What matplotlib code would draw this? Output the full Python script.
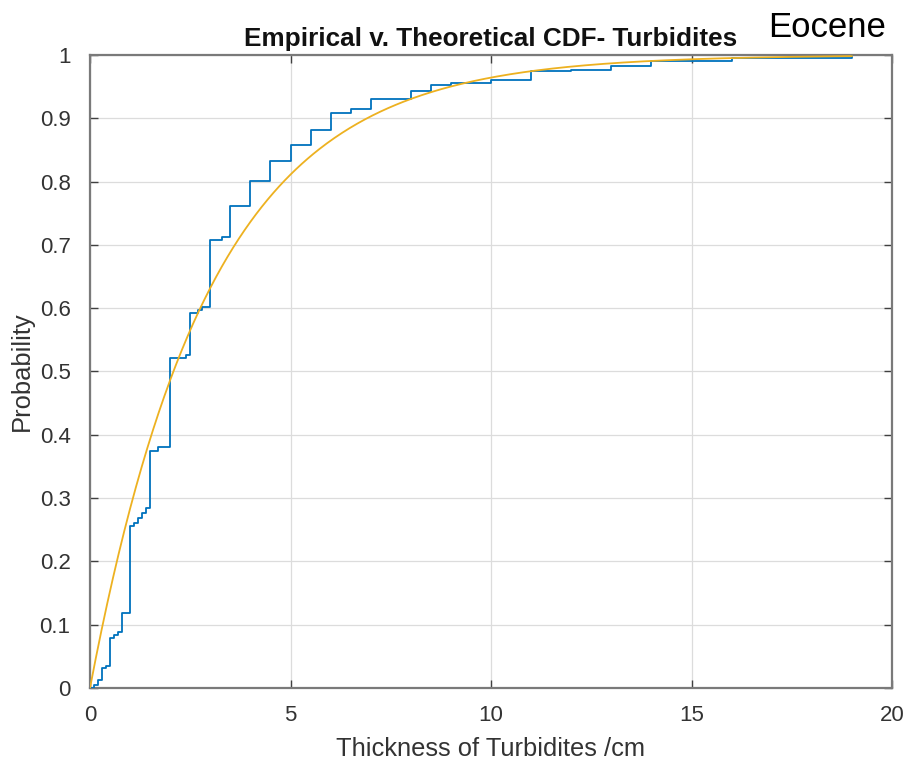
import numpy as np
import matplotlib
matplotlib.use("Agg")
import matplotlib.pyplot as plt

# Empirical CDF step locations (thickness, cm) and probability after each step
step_x = [0.0, 0.1, 0.2, 0.3, 0.4, 0.5, 0.6, 0.7, 0.8, 1.0, 1.1, 1.2, 1.3, 1.4,
          1.5, 1.7, 2.0, 2.4, 2.5, 2.7, 2.8, 3.0, 3.3, 3.5, 4.0, 4.5, 5.0, 5.5,
          6.0, 6.5, 7.0, 8.0, 8.5, 9.0, 10.0, 11.0, 12.0, 13.0, 14.0, 16.0, 19.0]
step_y = [0.0, 0.004, 0.013, 0.031, 0.035, 0.079, 0.083, 0.088, 0.119, 0.256,
          0.261, 0.268, 0.277, 0.285, 0.375, 0.381, 0.522, 0.526, 0.593, 0.597,
          0.602, 0.708, 0.712, 0.762, 0.801, 0.832, 0.858, 0.881, 0.908, 0.915,
          0.930, 0.943, 0.952, 0.956, 0.961, 0.974, 0.977, 0.982, 0.990, 0.996,
          1.0]

# Theoretical (exponential) CDF: mean thickness parameter
mean_thickness = 3.0
x_max = 19.0

x_ticks = [0, 5, 10, 15, 20]
y_ticks = [0, 0.1, 0.2, 0.3, 0.4, 0.5, 0.6, 0.7, 0.8, 0.9, 1]
y_tick_labels = ["0", "0.1", "0.2", "0.3", "0.4", "0.5", "0.6", "0.7", "0.8", "0.9", "1"]

plt.rcParams['font.family'] = ['Liberation Sans', 'DejaVu Sans']

fig = plt.figure(figsize=(9.09, 7.64), dpi=100)
ax = fig.add_axes([90/909, 1-688/764, (892-90)/909, (688-55)/764])

blue = '#0072BD'
gold = '#EDB120'

ax.step(step_x, step_y, where='post', color=blue, lw=1.3, zorder=3)
xt = np.linspace(0, x_max, 400)
ax.plot(xt, 1 - np.exp(-xt / mean_thickness), color=gold, lw=1.3, zorder=4)

ax.set_xlim(0, 20)
ax.set_ylim(0, 1)
ax.set_xticks(x_ticks)
ax.set_yticks(y_ticks)
ax.set_yticklabels(y_tick_labels)

ax.grid(True, color='#dcdcdc', lw=0.9)
ax.set_axisbelow(True)

for s in ax.spines.values():
    s.set_color('#7a7a7a')
    s.set_linewidth(1.6)

ax.tick_params(axis='both', direction='in', top=True, right=True, length=6,
               width=1.0, color='#404040', labelsize=16, labelcolor='#333333')
ax.tick_params(axis='x', pad=12)
ax.tick_params(axis='y', pad=14)

ax.set_xlabel('Thickness of Turbidites /cm', fontsize=18.4, color='#333333', labelpad=8)
ax.set_ylabel('Probability', fontsize=18.4, color='#333333', labelpad=4)
ax.set_title('Empirical v. Theoretical CDF- Turbidites', fontsize=18.8,
             fontweight='bold', color='#111111', pad=6.5)

fig.text(768/909, 1-37/764, 'Eocene', fontsize=25, color='black',
         ha='left', va='baseline')

fig.savefig('out.png', dpi=100)
